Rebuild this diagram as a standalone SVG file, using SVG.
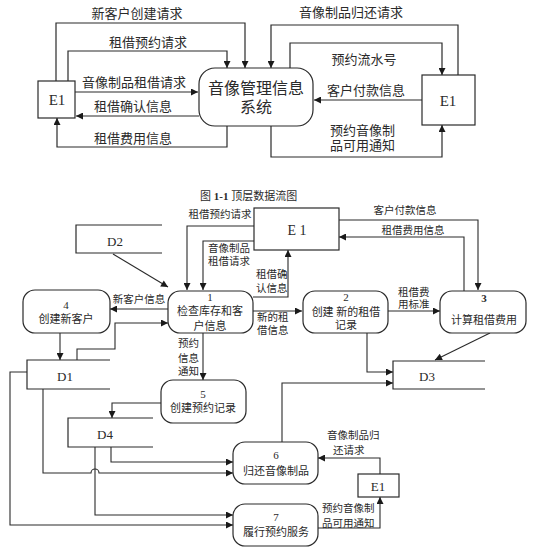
<svg xmlns="http://www.w3.org/2000/svg" width="559" height="560" viewBox="0 0 559 560">
<defs>
<style>
.bg{fill:#fff}
.ln{fill:none;stroke:#2a2a2a;stroke-width:1.2}
.bx{fill:#fff;stroke:#2a2a2a;stroke-width:1.2}
.t{font-family:"Liberation Serif","Noto Sans CJK SC",serif;fill:#2a2a2a}
.tl{font-size:13px}
.ts{font-size:10.5px}
.tp{font-size:11px;text-anchor:middle}
.tm{text-anchor:middle}
</style>
<marker id="a" viewBox="0 0 10 10" refX="10" refY="5" markerWidth="9" markerHeight="7" orient="auto" markerUnits="userSpaceOnUse"><path d="M0,0 L10,5 L0,10 z" fill="#1a1a1a"/></marker>
</defs>
<rect class="bg" width="559" height="560"/>

<!-- Top diagram connectors -->
<g id="top-connectors" class="ln" marker-end="url(#a)">
<path d="M56,81 V23 H245 V68"/>
<path d="M68,81 V51 H227 V68"/>
<path d="M75,92 H198"/>
<path d="M199,116 H76"/>
<path d="M227,126 V147 H57 V118"/>
<path d="M458,75 V25 H271 V68"/>
<path d="M290,68 V43 H442 V75"/>
<path d="M422,100 H314"/>
<path d="M271,126 V157 H442 V125"/>
</g>
<g id="top-labels" class="t tl">
<text x="137" y="18" class="tm">新客户创建请求</text>
<text x="148" y="47" class="tm">租借预约请求</text>
<text x="134" y="87" class="tm">音像制品租借请求</text>
<text x="133" y="111" class="tm">租借确认信息</text>
<text x="133" y="143" class="tm">租借费用信息</text>
<text x="351" y="17" class="tm">音像制品归还请求</text>
<text x="364" y="64" class="tm">预约流水号</text>
<text x="366" y="95" class="tm">客户付款信息</text>
<text x="330" y="135">预约音像制</text>
<text x="330" y="150">品可用通知</text>
</g>
<g id="top-E1-left"><rect class="bx" x="38" y="81" width="37" height="37"/><text class="t tm" x="57" y="105" font-size="15">E1</text></g>
<g id="top-system"><rect class="bx" x="199" y="68" width="114" height="58" rx="16"/><text class="t tm" x="256" y="94" font-size="16">音像管理信息</text><text class="t tm" x="256" y="113" font-size="16">系统</text></g>
<g id="top-E1-right"><rect class="bx" x="422" y="75" width="53" height="50"/><text class="t tm" x="448" y="106" font-size="15">E1</text></g>

<text class="t" x="200" y="200" font-size="11">图 <tspan font-weight="bold">1-1</tspan> 顶层数据流图</text>

<!-- Bottom diagram connectors -->
<g id="connectors" class="ln" style="stroke-width:1.1">
<g marker-end="url(#a)">
<path d="M113,254 L168,287"/>
<path d="M254,226 H187 V290"/>
<path d="M254,241 H203 V290"/>
<path d="M253,297 H288 V250"/>
<path d="M253,311 H302"/>
<path d="M388,311 H440"/>
<path d="M339,220 H478 V290"/>
<path d="M464,291 V237 H339"/>
<path d="M490,333 L435,360"/>
<path d="M367,333 V372 H393"/>
<path d="M282,442 V383 H393"/>
<path d="M168,309 H110"/>
<path d="M60,333 V360"/>
<path d="M77,360 V349 H115 V323 H168"/>
<path d="M27,372 H10 V525 H233"/>
<path d="M43,389 V473 H91 A4,4 0 0 1 99,473 H233"/>
<path d="M203,333 V380"/>
<path d="M161,403 H112 V418"/>
<path d="M111,447 V462 H233"/>
<path d="M95,447 V515 H233"/>
<path d="M380,474 V458 H318"/>
<path d="M318,528 H380 V497"/>
</g>
</g>

<!-- data stores -->
<g id="D2" class="ln"><path d="M162,225 H76 V253 H162"/><text class="t tm" x="115" y="246" font-size="13" stroke="none">D2</text></g>
<g id="D1" class="ln"><path d="M110,360 H27 V389 H110"/><text class="t tm" x="65" y="381" font-size="13" stroke="none">D1</text></g>
<g id="D4" class="ln"><path d="M153,418 H68 V447 H153"/><text class="t tm" x="105" y="439" font-size="13" stroke="none">D4</text></g>
<g id="D3" class="ln"><path d="M485,361 H393 V389 H485"/><text class="t tm" x="427" y="381" font-size="13" stroke="none">D3</text></g>

<!-- external entities -->
<g id="E1-b"><rect class="bx" x="254" y="208" width="85" height="42"/><text class="t tm" x="297" y="235" font-size="14">E 1</text></g>
<g id="E1-c"><rect class="bx" x="358" y="474" width="41" height="23"/><text class="t tm" x="378" y="491" font-size="13">E1</text></g>

<!-- processes -->
<g id="P1"><rect class="bx" x="168" y="291" width="85" height="42" rx="12"/><text class="t tp" x="210" y="301">1</text><text class="t tp" x="210" y="315">检查库存和客</text><text class="t tp" x="210" y="330">户信息</text></g>
<g id="P2"><rect class="bx" x="303" y="291" width="85" height="42" rx="12"/><text class="t tp" x="346" y="301">2</text><text class="t tp" x="346" y="316">创建 新的租借</text><text class="t tp" x="346" y="329">记录</text></g>
<g id="P3"><rect class="bx" x="440" y="291" width="86" height="42" rx="12"/><text class="t tp" x="484" y="302" font-weight="bold">3</text><text class="t tp" x="484" y="324">计算租借费用</text></g>
<g id="P4"><rect class="bx" x="23" y="290" width="87" height="43" rx="12"/><text class="t tp" x="66" y="309">4</text><text class="t tp" x="66" y="323">创建新客户</text></g>
<g id="P5"><rect class="bx" x="161" y="380" width="85" height="43" rx="12"/><text class="t tp" x="203" y="398">5</text><text class="t tp" x="203" y="412">创建预约记录</text></g>
<g id="P6"><rect class="bx" x="233" y="442" width="85" height="42" rx="12"/><text class="t tp" x="276" y="459">6</text><text class="t tp" x="276" y="475">归还音像制品</text></g>
<g id="P7"><rect class="bx" x="233" y="504" width="85" height="42" rx="12"/><text class="t tp" x="276" y="521">7</text><text class="t tp" x="276" y="536">履行预约服务</text></g>

<!-- bottom labels -->
<g id="labels" class="t ts">
<text x="220" y="218" class="tm">租借预约请求</text>
<text x="208" y="252">音像制品</text>
<text x="208" y="265">租借请求</text>
<text x="256" y="278">租借确</text>
<text x="256" y="292">认信息</text>
<text x="257" y="321">新的租</text>
<text x="257" y="334">借信息</text>
<text x="398" y="296">租借费</text>
<text x="398" y="308">用标准</text>
<text x="405" y="214" class="tm">客户付款信息</text>
<text x="413" y="234" class="tm">租借费用信息</text>
<text x="139" y="303" class="tm">新客户信息</text>
<text x="178" y="347">预约</text>
<text x="178" y="362">信息</text>
<text x="178" y="375">通知</text>
<text x="327" y="439">音像制品归</text>
<text x="333" y="454">还请求</text>
<text x="322" y="512">预约音像制</text>
<text x="322" y="527">品可用通知</text>
</g>
</svg>
